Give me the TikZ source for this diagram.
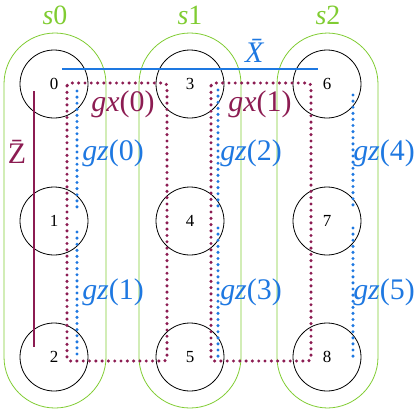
\documentclass[tikz,border=0pt]{standalone}
\usepackage{fontspec}
\setmainfont{Liberation Serif}
\definecolor{sgreen}{RGB}{128,204,50}
\definecolor{gblue}{RGB}{30,120,225}
\definecolor{gpurple}{RGB}{140,28,82}
\begin{document}
\begin{tikzpicture}[x=1bp,y=-1bp,
  qubit/.style={draw=black,line width=0.8bp,circle,minimum size=68bp,inner sep=0pt,font=\fontsize{17}{19}\selectfont},
  stab/.style={draw=sgreen,line width=0.8bp,rounded corners=51bp},
  slabel/.style={text=sgreen,font=\fontsize{28}{30}\selectfont},
  bigl/.style={font=\fontsize{30}{32}\selectfont,inner sep=0pt},
  gxline/.style={draw=gpurple,line width=3.4bp,line cap=round,dash pattern=on 0bp off 6.3bp,rounded corners=3bp},
  gzline/.style={draw=gblue,line width=3.4bp,line cap=round,dash pattern=on 0bp off 6.1bp},
]
\useasboundingbox (0,0) rectangle (418,413);
% stabilizer groups
\draw[stab] (4,33) rectangle (106,408);
\draw[stab] (139,33) rectangle (241,408);
\draw[stab] (277,33) rectangle (378,408);
\node[slabel] (s0) at (55,15) {\textit{s}0};
\node[slabel] (s1) at (190,15) {\textit{s}1};
\node[slabel] (s2) at (328,15) {\textit{s}2};
% qubits
\node[qubit] (q0) at (54,84) {0};
\node[qubit] (q1) at (54,221) {1};
\node[qubit] (q2) at (54,357) {2};
\node[qubit] (q3) at (190,84) {3};
\node[qubit] (q4) at (190,221) {4};
\node[qubit] (q5) at (190,357) {5};
\node[qubit] (q6) at (327,84) {6};
\node[qubit] (q7) at (327,221) {7};
\node[qubit] (q8) at (327,357) {8};
% logical X
\coordinate (xa) at (62,69);
\coordinate (xb) at (318,69);
\draw[gblue,line width=1.5bp] (xa) -- (xb);
\node[bigl,text=gblue] (xl) at (258,51) {\textit{\={X}}};
% logical Z
\coordinate (za) at (34,91);
\coordinate (zb) at (34,347);
\draw[gpurple,line width=1.5bp] (za) -- (zb);
\node[bigl,text=gpurple] (zl) at (17,152) {\={Z}};
% gauge X
\coordinate (r0a) at (67,83);
\coordinate (r0b) at (167,361);
\coordinate (r1a) at (211,83);
\coordinate (r1b) at (311,361);
\draw[gxline] (r0a) rectangle (r0b);
\draw[gxline] (r1a) rectangle (r1b);
\node[bigl,text=gpurple] (gx0) at (123,104) {\textit{gx}(0)};
\node[bigl,text=gpurple] (gx1) at (260,104) {\textit{gx}(1)};
% gauge Z
\coordinate (z0a) at (77,91);  \coordinate (z0b) at (77,213);
\coordinate (z1a) at (77,232); \coordinate (z1b) at (77,360);
\coordinate (z2a) at (218,90); \coordinate (z2b) at (218,206);
\coordinate (z3a) at (218,228);\coordinate (z3b) at (218,359);
\coordinate (z4a) at (353,95); \coordinate (z4b) at (353,206);
\coordinate (z5a) at (353,228);\coordinate (z5b) at (353,359);
\draw[gzline] (z0a) -- (z0b);
\draw[gzline] (z1a) -- (z1b);
\draw[gzline] (z2a) -- (z2b);
\draw[gzline] (z3a) -- (z3b);
\draw[gzline] (z4a) -- (z4b);
\draw[gzline] (z5a) -- (z5b);
\node[bigl,text=gblue] (gz0) at (113,153) {\textit{gz}(0)};
\node[bigl,text=gblue] (gz1) at (113,292) {\textit{gz}(1)};
\node[bigl,text=gblue] (gz2) at (251,153) {\textit{gz}(2)};
\node[bigl,text=gblue] (gz3) at (251,292) {\textit{gz}(3)};
\node[bigl,text=gblue] (gz4) at (384,153) {\textit{gz}(4)};
\node[bigl,text=gblue] (gz5) at (384,292) {\textit{gz}(5)};
\end{tikzpicture}
\end{document}
